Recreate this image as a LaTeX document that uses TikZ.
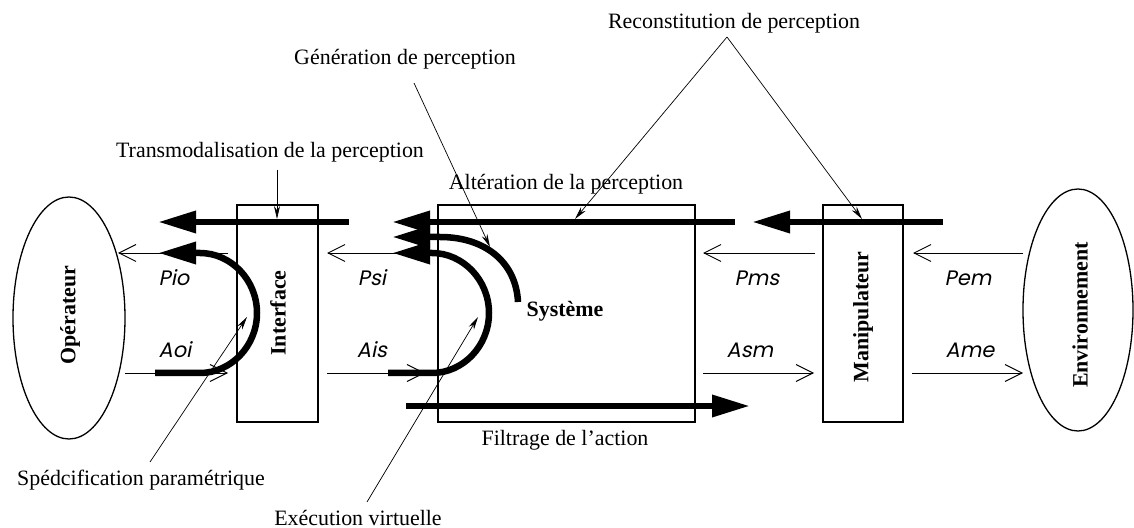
\documentclass[tikz,border=0pt]{standalone}
\usepackage{fontspec}
\setmainfont{Liberation Serif}
\newfontfamily\lblfont[FakeSlant=0.2]{Poppins}
\usetikzlibrary{arrows.meta,shapes.geometric}
\begin{document}
\begin{tikzpicture}[x=1bp,y=-1bp,
  box/.style={draw,line width=1.3bp,inner sep=0pt},
  oval/.style={draw,ellipse,line width=1.3bp,inner sep=0pt},
  thinarr/.style={line width=0.9bp,-{Straight Barb[length=17bp,width=17bp]}},
  thickarr/.style={line width=6.5bp,-{Triangle[length=38bp,width=21bp]}},
  lead/.style={line width=0.7bp,-{Stealth[length=13bp,width=6bp]}},
  lbl/.style={inner sep=0pt,font=\fontsize{22}{26}\selectfont},
  sig/.style={inner sep=0pt,font=\lblfont\fontsize{21}{24}\selectfont},
  boldlbl/.style={inner sep=0pt,font=\fontsize{22}{26}\selectfont\bfseries}]
\useasboundingbox (0,0) rectangle (1134,528);

% ellipses and boxes
\node[oval,minimum width=112bp,minimum height=242bp] (op) at (69,318) {};
\node[oval,minimum width=110bp,minimum height=242bp] (env) at (1078,310) {};
\node[box,minimum width=81bp,minimum height=217bp] (int) at (277.5,313.5) {};
\node[box,minimum width=257bp,minimum height=217bp] (sys) at (566.5,313.5) {};
\node[box,minimum width=80bp,minimum height=217bp] (man) at (863,313.5) {};

\node[boldlbl,rotate=90] (opl) at (70,315) {Opérateur};
\node[boldlbl,rotate=90] (intl) at (278,313) {Interface};
\node[boldlbl,rotate=90] (manl) at (863,317) {Manipulateur};
\node[boldlbl,rotate=90] (envl) at (1080,315) {Environnement};
\node[boldlbl] (sysl) at (565,311) {Système};

% thin flow arrows
\coordinate (pioA) at (228,253); \coordinate (pioB) at (118,253);
\coordinate (aoiA) at (125,373); \coordinate (aoiB) at (228,373);
\coordinate (psiA) at (438,253); \coordinate (psiB) at (327,253);
\coordinate (aisA) at (327,373); \coordinate (aisB) at (425,373);
\coordinate (pmsA) at (815,253); \coordinate (pmsB) at (703,253);
\coordinate (asmA) at (703,373); \coordinate (asmB) at (814,373);
\coordinate (pemA) at (1023,253); \coordinate (pemB) at (913,253);
\coordinate (ameA) at (912,373); \coordinate (ameB) at (1023,373);
\draw[thinarr] (pioA) -- (pioB);
\draw[thinarr] (aoiA) -- (aoiB);
\draw[thinarr] (psiA) -- (psiB);
\draw[thinarr] (aisA) -- (aisB);
\draw[thinarr] (pmsA) -- (pmsB);
\draw[thinarr] (asmA) -- (asmB);
\draw[thinarr] (pemA) -- (pemB);
\draw[thinarr] (ameA) -- (ameB);

\node[sig] (pio) at (174,278) {Pio};
\node[sig] (aoi) at (175,350) {Aoi};
\node[sig] (psi) at (372,278) {Psi};
\node[sig] (ais) at (372,350) {Ais};
\node[sig] (pms) at (757,278) {Pms};
\node[sig] (asm) at (750,350) {Asm};
\node[sig] (pem) at (968,278) {Pem};
\node[sig] (ame) at (970,350) {Ame};

% thick straight arrows
\coordinate (t1A) at (349,222); \coordinate (t1B) at (158,222);
\coordinate (t2A) at (735,222); \coordinate (t2B) at (392,222);
\coordinate (t3A) at (943,222); \coordinate (t3B) at (752,222);
\coordinate (t4A) at (406,406); \coordinate (t4B) at (750,406);
\draw[thickarr] (t1A) -- (t1B);
\draw[thickarr] (t2A) -- (t2B);
\draw[thickarr] (t3A) -- (t3B);
\draw[thickarr] (t4A) -- (t4B);

% thick curved arrows
\coordinate (c1s) at (155,373); \coordinate (c1t) at (158,253);
\draw[thickarr] (c1s) -- (200,373) .. controls (231,373) and (257,346) .. (257,313)
  .. controls (257,280) and (231,253) .. (200,253) -- (c1t);
\coordinate (c2s) at (388,373); \coordinate (c2t) at (392,253);
\draw[thickarr] (c2s) -- (432,373) .. controls (463,373) and (489,346) .. (489,313)
  .. controls (489,280) and (463,253) .. (432,253) -- (c2t);
\coordinate (c3s) at (518,302); \coordinate (c3t) at (392,237);
\draw[thickarr] (c3s) .. controls (516,262) and (485,237) .. (440,237) -- (c3t);

% annotation labels
\node[lbl] (trans) at (270,152) {Transmodalisation de la perception};
\node[lbl] (gen) at (405,59) {Génération de perception};
\node[lbl] (recon) at (734,23) {Reconstitution de perception};
\node[lbl] (alt) at (566,184) {Altération de la perception};
\node[lbl] (spec) at (141,480) {Spédcification paramétrique};
\node[lbl,anchor=base] (exec) at (358,525) {Exécution virtuelle};
\node[lbl] (filt) at (565,440) {Filtrage de l’action};

% leaders
\coordinate (transS) at (277,170); \coordinate (transT) at (277,219);
\coordinate (genS) at (414,83); \coordinate (genT) at (490,247);
\coordinate (apex) at (727,37);
\coordinate (reT1) at (575,219); \coordinate (reT2) at (862,219);
\coordinate (specS) at (150,462); \coordinate (specT) at (247,317);
\coordinate (execS) at (367,502); \coordinate (execT) at (478,317);
\draw[lead] (transS) -- (transT);
\draw[lead] (genS) -- (genT);
\draw[lead] (apex) -- (reT1);
\draw[lead] (apex) -- (reT2);
\draw[lead] (specS) -- (specT);
\draw[lead] (execS) -- (execT);
\end{tikzpicture}
\end{document}
